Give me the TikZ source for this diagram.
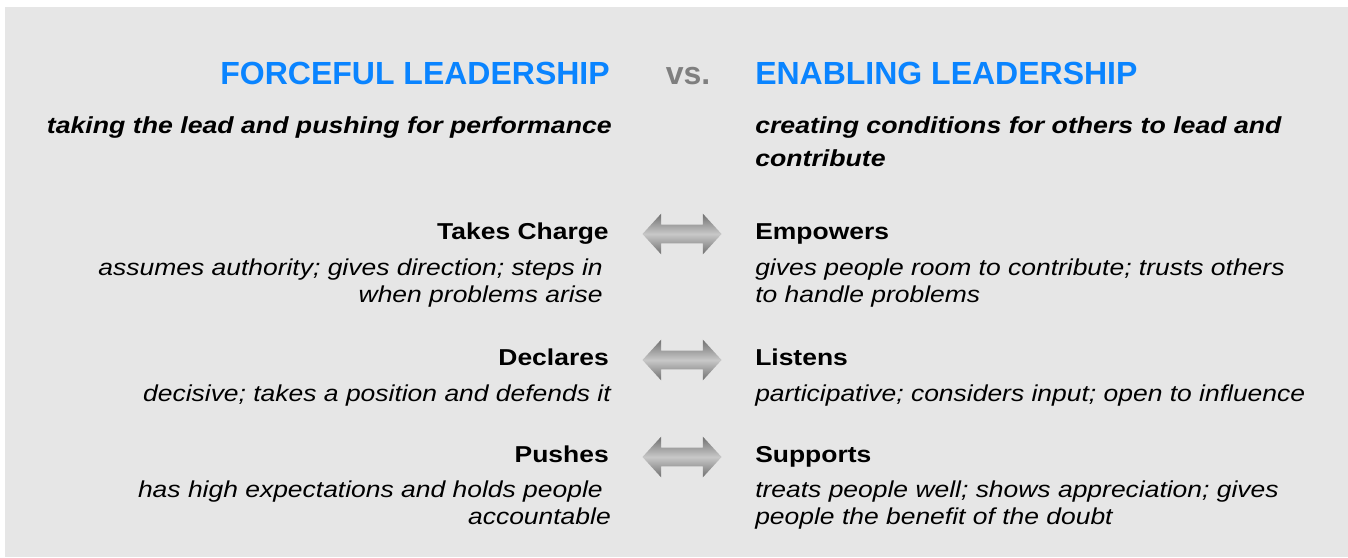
\documentclass[tikz,border=0pt]{standalone}
\usepackage{fontspec}
\setmainfont{Liberation Sans}
\newfontfamily\bodyfont{Liberation Sans}[FakeStretch=1.15]
\usetikzlibrary{shapes.arrows}
\definecolor{bg}{HTML}{E6E6E6}
\definecolor{ttl}{HTML}{0A84FF}
\definecolor{vsgray}{HTML}{7F7F7F}
\definecolor{arrdark}{HTML}{707070}
\definecolor{arrlight}{HTML}{C8C8C8}
\tikzset{
  ttlstyle/.style={font=\fontsize{24}{28}\selectfont\bfseries, text=ttl, inner sep=0pt},
  vsstyle/.style={font=\fontsize{24}{28}\selectfont\bfseries, text=vsgray, inner sep=0pt},
  substyle/.style={font=\bodyfont\fontsize{17.4}{24.75}\selectfont\bfseries\itshape, inner sep=0pt},
  headstyle/.style={font=\bodyfont\fontsize{17.25}{20.25}\selectfont\bfseries, inner sep=0pt},
  descstyle/.style={font=\bodyfont\fontsize{17.25}{20.25}\selectfont\itshape, inner sep=0pt},
  dblarrow/.style={double arrow, double arrow head extend=8.25pt, inner xsep=0pt, inner ysep=6.75pt,
    minimum height=59.25pt, double arrow tip angle=95,
    shading=axis, top color=arrdark, bottom color=arrdark, middle color=arrlight, draw=none}
}
\begin{document}
\begin{tikzpicture}[x=0.75pt,y=-0.75pt]
\useasboundingbox (0,0) rectangle (1348,557);
\fill[bg] (5,7) rectangle (1348,557);
% titles
\node[ttlstyle, anchor=base east] (tl) at (610,84) {FORCEFUL LEADERSHIP};
\node[vsstyle, anchor=base] (vs) at (688,84) {vs.};
\node[ttlstyle, anchor=base west] (tr) at (755,84) {ENABLING LEADERSHIP};
% subtitles
\node[substyle, anchor=base east] (sl) at (612,133) {taking the lead and pushing for performance};
\node[substyle, anchor=base west] (sr1) at (755,133) {creating conditions for others to lead and};
\node[substyle, anchor=base west] (sr2) at (755,166) {contribute};
% row 1
\node[headstyle, anchor=base east] (h1l) at (609,239) {Takes Charge};
\node[descstyle, anchor=base east] (d1l1) at (603,275) {assumes authority; gives direction; steps in};
\node[descstyle, anchor=base east] (d1l2) at (603,302) {when problems arise};
\node[headstyle, anchor=base west] (h1r) at (755,239) {Empowers};
\node[descstyle, anchor=base west] (d1r1) at (755,275) {gives people room to contribute; trusts others};
\node[descstyle, anchor=base west] (d1r2) at (755,302) {to handle problems};
\node[dblarrow] (a1) at (682,234) {};
% row 2
\node[headstyle, anchor=base east] (h2l) at (609,365) {Declares};
\node[descstyle, anchor=base east] (d2l1) at (611,401) {decisive; takes a position and defends it};
\node[headstyle, anchor=base west] (h2r) at (755,365) {Listens};
\node[descstyle, anchor=base west] (d2r1) at (755,401) {participative; considers input; open to influence};
\node[dblarrow] (a2) at (682,360) {};
% row 3
\node[headstyle, anchor=base east] (h3l) at (609,462) {Pushes};
\node[descstyle, anchor=base east] (d3l1) at (603,497) {has high expectations and holds people};
\node[descstyle, anchor=base east] (d3l2) at (611,524) {accountable};
\node[headstyle, anchor=base west] (h3r) at (755,462) {Supports};
\node[descstyle, anchor=base west] (d3r1) at (755,497) {treats people well; shows appreciation; gives};
\node[descstyle, anchor=base west] (d3r2) at (755,524) {people the benefit of the doubt};
\node[dblarrow] (a3) at (682,457) {};
\end{tikzpicture}
\end{document}
